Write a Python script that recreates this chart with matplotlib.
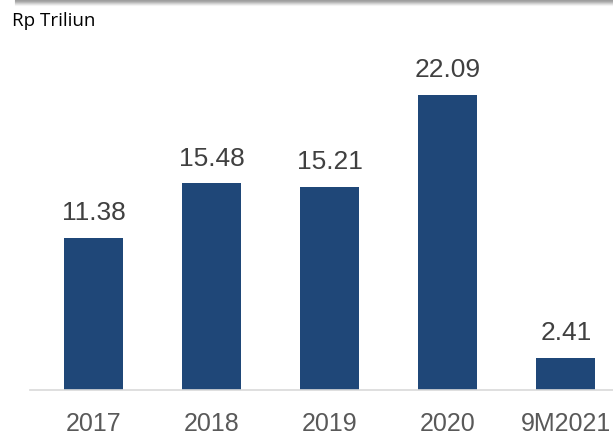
import matplotlib.pyplot as plt
from matplotlib.lines import Line2D

categories = ["2017", "2018", "2019", "2020", "9M2021"]
values = [11.38, 15.48, 15.21, 22.09, 2.41]
labels = ["11.38", "15.48", "15.21", "22.09", "2.41"]

W, H = 613, 436
fig = plt.figure(figsize=(W / 100, H / 100), dpi=100)

# axes spans from baseline (y=390px) upward, left edge at x=30px
ax = fig.add_axes([30 / W, (H - 390) / H, (W - 30) / W, 350 / H])
x = range(len(categories))
ax.bar(x, values, width=0.5, color="#1f4778", zorder=2)
ax.set_xlim(-0.54, 4.40)
ax.set_ylim(0, 26.2)

for xi, v, lab in zip(x, values, labels):
    ax.annotate(lab, (xi, v), xytext=(0, 9), textcoords="offset points",
                ha="center", va="bottom", fontsize=19, color="#404040",
                family="Liberation Sans")

ax.set_xticks(list(x))
ax.set_xticklabels(categories, fontsize=18, color="#595959", family="Liberation Sans")
ax.tick_params(axis="x", length=0, pad=16)
ax.set_yticks([])
for side in ["left", "right", "top"]:
    ax.spines[side].set_visible(False)
ax.spines["bottom"].set_color("#d9d9d9")
ax.spines["bottom"].set_linewidth(1.2)

# grey shadow strip along the top edge
for i, a in enumerate([0.75, 0.65, 0.5, 0.35, 0.2, 0.08]):
    yy = 1 - (i + 0.5) / H
    fig.add_artist(Line2D([15 / W, 1], [yy, yy], transform=fig.transFigure,
                          color="#808080", alpha=a, linewidth=0.8))

fig.text(12 / W, 1 - 21 / H, "Rp Triliun", fontsize=13.5, color="black",
         family="Open Sans", va="center", ha="left")

fig.savefig("out.png", dpi=100)
